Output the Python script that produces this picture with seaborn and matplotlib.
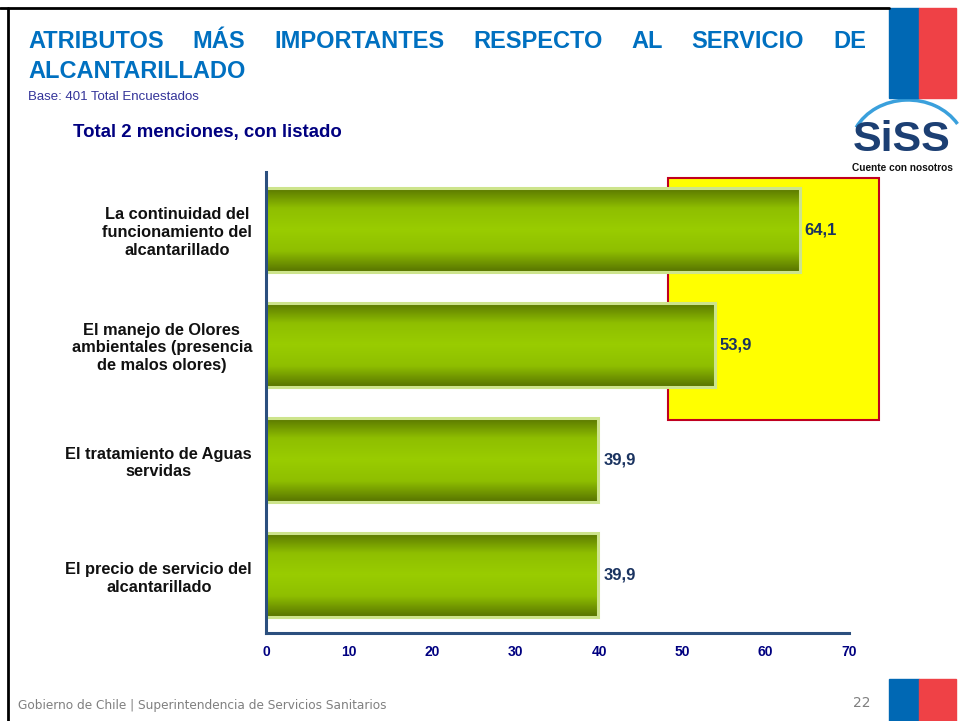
import numpy as np
import pandas as pd
import matplotlib
matplotlib.use("Agg")
import matplotlib.pyplot as plt
import seaborn as sns
from matplotlib.patches import Rectangle, Arc
from matplotlib.colors import LinearSegmentedColormap

categories = [
    "La continuidad del\nfuncionamiento del\nalcantarillado",
    "El manejo de Olores\nambientales (presencia\nde malos olores)",
    "El tratamiento de Aguas\nservidas",
    "El precio de servicio del\nalcantarillado",
]
values = [64.1, 53.9, 39.9, 39.9]
value_labels = ["64,1", "53,9", "39,9", "39,9"]
xticks = [0, 10, 20, 30, 40, 50, 60, 70]

title_line1 = "ATRIBUTOS MÁS IMPORTANTES RESPECTO AL SERVICIO DE"
title_line2 = "ALCANTARILLADO"
subtitle = "Base: 401 Total Encuestados"
chart_title = "Total 2 menciones, con listado"
footer = "Gobierno de Chile | Superintendencia de Servicios Sanitarios"
page = "22"

sns.set_theme(style="white")
plt.rcParams["font.family"] = ["Liberation Sans", "DejaVu Sans"]

W, H = 959, 721
fig = plt.figure(figsize=(W / 100, H / 100), dpi=100)
fig.patch.set_facecolor("white")

def fx(px):
    return px / W

def fy(py):
    return 1 - py / H

ax = fig.add_axes([fx(266), fy(633), fx(849) - fx(266), fy(172) - fy(633)])
ax.patch.set_alpha(0)

df = pd.DataFrame({"cat": categories, "val": values})
sns.barplot(data=df, x="val", y="cat", orient="h", width=0.73,
            color="#99cc00", edgecolor="#cde48c", linewidth=2.2, ax=ax, zorder=3)

# vertical gradient fill inside each bar
grad = np.concatenate([np.linspace(0, 1, 50), np.linspace(1, 0, 50)]).reshape(-1, 1)
cmap = LinearSegmentedColormap.from_list("g", ["#587400", "#8fbf00", "#99cc00"])
for p in list(ax.patches):
    x0, y0 = p.get_x(), p.get_y()
    w, h = p.get_width(), p.get_height()
    im = ax.imshow(grad, cmap=cmap, aspect="auto", extent=[x0, x0 + w, y0 + h, y0],
                   zorder=3.5, interpolation="bilinear")
    im.set_clip_path(p)
    p.set_zorder(4)
    p.set_facecolor("none")

ax.set_xlim(0, 70)
ax.set_ylim(3.5, -0.5)

for i, (v, lab) in enumerate(zip(values, value_labels)):
    ax.text(v + 0.6, i, lab, va="center", ha="left", fontsize=12, fontweight="bold",
            color="#1a3360", zorder=6)

# yellow highlight box (behind the bars)
ax.add_patch(Rectangle((fx(668), fy(420)), fx(879) - fx(668), fy(178) - fy(420),
                       transform=fig.transFigure, facecolor="#ffff00",
                       edgecolor="#c00020", linewidth=1.5, zorder=0.5, clip_on=False))

for s in ["top", "right"]:
    ax.spines[s].set_visible(False)
for s in ["left", "bottom"]:
    ax.spines[s].set_color("#2b4f7e")
    ax.spines[s].set_linewidth(2.2)
    ax.spines[s].set_zorder(5)

ax.set_xticks(xticks)
ax.set_xticklabels([str(t) for t in xticks], fontsize=10, fontweight="bold", color="#000080")
ax.tick_params(axis="x", direction="inout", length=5, width=1.5, color="#2b4f7e", pad=6)
ax.set_yticks(range(len(categories)))
ax.set_yticklabels(categories, fontsize=11.8, fontweight="bold", color="#111111",
                   ha="right", multialignment="center", linespacing=1.22)
ax.tick_params(axis="y", which="major", length=0, pad=10)
ax.set_yticks([-0.5, 0.5, 1.5, 2.5], minor=True)
ax.tick_params(axis="y", which="minor", direction="out", length=4, width=1.5, color="#2b4f7e")
ax.set_xlabel("")
ax.set_ylabel("")

# page frame
fig.add_artist(plt.Line2D([fx(8), fx(8)], [fy(8), 0], transform=fig.transFigure,
                          color="black", lw=2))
fig.add_artist(plt.Line2D([fx(0), fx(889)], [fy(8), fy(8)], transform=fig.transFigure,
                          color="black", lw=2))

# flags
for (x0, x1, c) in [(889, 919, "#0068b4"), (919, 956, "#ef4146")]:
    fig.patches.append(Rectangle((fx(x0), fy(98)), fx(x1) - fx(x0), fy(8) - fy(98),
                                 transform=fig.transFigure, color=c, zorder=1))
    fig.patches.append(Rectangle((fx(x0), 0), fx(x1) - fx(x0), fy(679),
                                 transform=fig.transFigure, color=c, zorder=1))

# justified title line 1
words = title_line1.split()
fig.canvas.draw()
renderer = fig.canvas.get_renderer()
tobjs = [fig.text(0, fy(41), wd, fontsize=17, fontweight="bold", color="#0070c0",
                  va="center", ha="left") for wd in words]
widths = [t.get_window_extent(renderer).width for t in tobjs]
left, right = 28, 866
gap = (right - left - sum(widths)) / (len(words) - 1)
xpos = left
for t, w in zip(tobjs, widths):
    t.set_x(fx(xpos))
    xpos += w + gap
fig.text(fx(28), fy(72), title_line2, fontsize=17, fontweight="bold", color="#0070c0",
         va="center", ha="left")
fig.text(fx(28), fy(97), subtitle, fontsize=9.5, color="#333399", va="center", ha="left")
fig.text(fx(73), fy(132), chart_title, fontsize=13.4, fontweight="bold", color="#000080",
         va="center", ha="left")

# SISS logo approximation
fig.add_artist(Arc((fx(908), fy(150)), fx(116), fy(100) - fy(200), theta1=35, theta2=150,
                   transform=fig.transFigure, color="#3aa0dc", lw=2.5))
fig.text(fx(902), fy(140), "SiSS", fontsize=31, fontweight="bold", color="#1c3f73",
         va="center", ha="center")
fig.text(fx(902), fy(168), "Cuente con nosotros", fontsize=7.3, fontweight="bold",
         color="#111111", va="center", ha="center")

fig.text(fx(18), fy(705), footer, fontsize=8.7, color="#808080", va="center", ha="left",
         family=["DejaVu Sans"])
fig.text(fx(871), fy(703), page, fontsize=10, color="#808080", va="center", ha="right",
         family=["DejaVu Sans"])

fig.savefig("out.png", dpi=100)
